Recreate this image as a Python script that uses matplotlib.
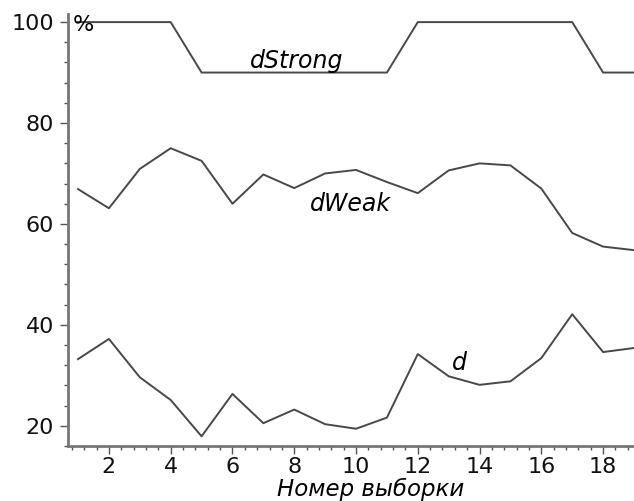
import matplotlib.pyplot as plt
from matplotlib.ticker import MultipleLocator

samples = list(range(1, 20))
dStrong = [100, 100, 100, 100, 90, 90, 90, 90, 90, 90, 90, 100, 100, 100, 100, 100, 100, 90, 90]
dWeak = [66.9, 63.1, 70.9, 75.0, 72.5, 64.0, 69.8, 67.1, 70.0, 70.7, 68.3, 66.1, 70.6, 72.0, 71.6, 67.0, 58.2, 55.5, 54.8]
d = [33.2, 37.2, 29.6, 25.1, 17.9, 26.3, 20.5, 23.2, 20.3, 19.4, 21.6, 34.2, 29.8, 28.1, 28.8, 33.4, 42.1, 34.6, 35.4]

plt.rcParams['font.family'] = ['DejaVu Sans']

fig = plt.figure(figsize=(6.34, 5.01), dpi=100)
ax = fig.add_axes([0.107, 0.11, 0.893, 0.862])

lineColor = '#484848'
ax.plot(samples, dStrong, color=lineColor, linewidth=1.4)
ax.plot(samples, dWeak, color=lineColor, linewidth=1.4)
ax.plot(samples, d, color=lineColor, linewidth=1.4)

ax.set_xlim(0.67, 19)
ax.set_ylim(16, 101.6)

ax.xaxis.set_major_locator(MultipleLocator(2))
ax.xaxis.set_minor_locator(MultipleLocator(0.4))
ax.yaxis.set_major_locator(MultipleLocator(20))
ax.yaxis.set_minor_locator(MultipleLocator(4))

for side in ['top', 'right']:
    ax.spines[side].set_visible(False)
for side in ['left', 'bottom']:
    ax.spines[side].set_linewidth(2)
    ax.spines[side].set_color('#777777')

ax.tick_params(which='major', length=6, width=1, color='#555555', labelsize=16, pad=4,
               labelcolor='#111111')
ax.tick_params(axis='x', which='major', pad=2)
ax.tick_params(which='minor', length=3, width=1, color='#555555')

ax.text(0.84, 101.4, '%', fontsize=16, va='top', ha='left')
ax.text(8.07, 90.9, 'dStrong', fontsize=17, style='italic', ha='center', va='baseline')
ax.text(9.83, 62.6, 'dWeak', fontsize=17, style='italic', ha='center', va='baseline')
ax.text(13.35, 31.1, 'd', fontsize=17, style='italic', ha='center', va='baseline')

fig.text(0.584, 0.009, 'Номер выборки', fontsize=16.5, style='italic', ha='center', va='baseline')

fig.savefig('out.png', dpi=100)
